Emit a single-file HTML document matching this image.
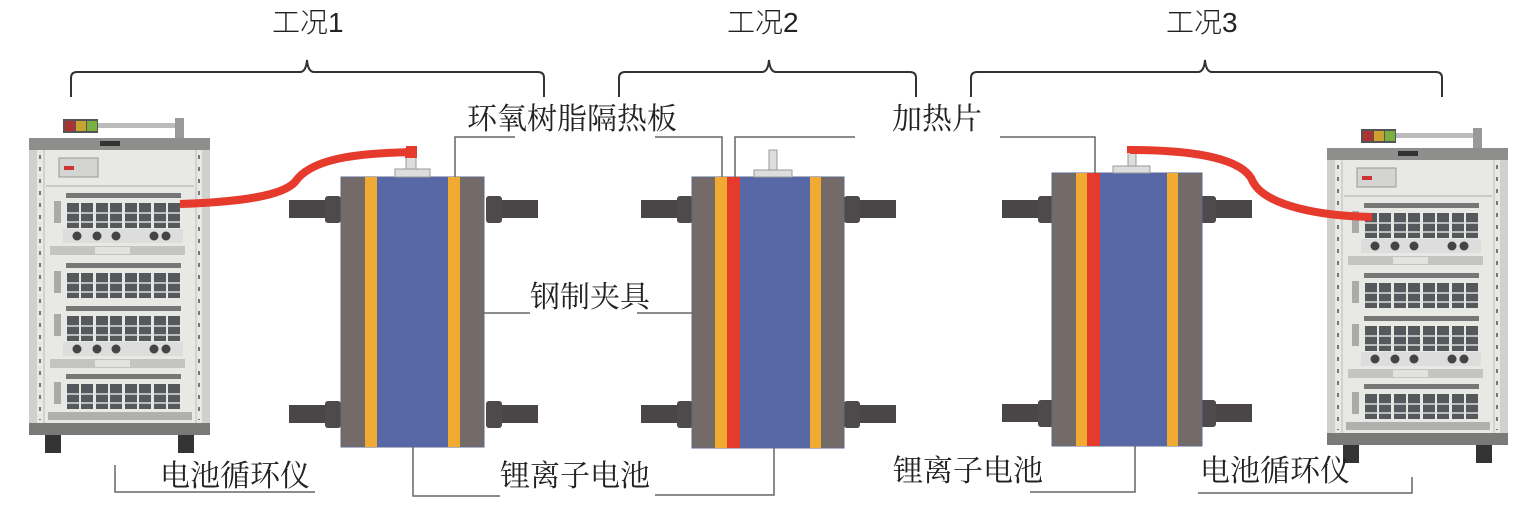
<!DOCTYPE html>
<html><head><meta charset="utf-8"><style>
html,body{margin:0;padding:0;background:#fff;width:1535px;height:511px;overflow:hidden}
svg{display:block}
text{font-family:"Liberation Serif","Noto Serif CJK SC","Noto Sans CJK SC",serif;fill:#222}
text.t{font-family:"Liberation Sans","Noto Sans CJK SC",sans-serif;font-weight:300}
</style></head><body>
<svg width="1535" height="511" viewBox="0 0 1535 511" xmlns="http://www.w3.org/2000/svg">
<defs>
<g id="row">
  <rect x="66" y="0" width="115" height="5" fill="#777"/>
  <rect x="54" y="8" width="7" height="22" fill="#aaa"/>
  <g fill="#55595c">
    <rect x="67" y="10" width="12" height="25"/><rect x="81" y="10" width="12" height="25"/>
    <rect x="96" y="10" width="12" height="25"/><rect x="110" y="10" width="12" height="25"/>
    <rect x="125" y="10" width="12" height="25"/><rect x="139" y="10" width="12" height="25"/>
    <rect x="154" y="10" width="12" height="25"/><rect x="168" y="10" width="12" height="25"/>
  </g>
  <g stroke="#ddd" stroke-width="1.5">
    <line x1="67" y1="20" x2="180" y2="20"/><line x1="67" y1="29" x2="180" y2="29"/>
  </g>
</g>
<g id="knobs">
  <rect x="63" y="0" width="120" height="14" fill="#ddd"/>
  <g fill="#444"><circle cx="77" cy="7" r="4.5"/><circle cx="97" cy="7" r="4.5"/><circle cx="116" cy="7" r="4.5"/><circle cx="154" cy="7" r="4.5"/><circle cx="166" cy="7" r="4.5"/></g>
  <rect x="50" y="17" width="135" height="9" fill="#c4c4c2"/>
  <rect x="95" y="18" width="35" height="7" fill="#e2e2e0"/>
</g>
<g id="cab">
  <rect x="63" y="119" width="35" height="14" fill="#555"/>
  <rect x="65" y="121" width="10" height="10" fill="#a33"/><rect x="76" y="121" width="10" height="10" fill="#c9a230"/><rect x="87" y="121" width="10" height="10" fill="#7ab040"/>
  <rect x="98" y="123" width="80" height="5" fill="#bbb"/>
  <rect x="175" y="118" width="9" height="20" fill="#999"/>
  <rect x="29" y="138" width="181" height="12" fill="#8e8e8c"/>
  <rect x="100" y="141" width="20" height="5" fill="#333"/>
  <rect x="29" y="150" width="181" height="273" fill="#e8e8e5"/>
  <rect x="29" y="150" width="8" height="273" fill="#d0d0cd"/>
  <rect x="202" y="150" width="8" height="273" fill="#d0d0cd"/>
  <g stroke="#777" stroke-width="2" stroke-dasharray="4 8"><line x1="40" y1="155" x2="40" y2="420"/><line x1="199" y1="155" x2="199" y2="420"/></g>
  <line x1="44" y1="150" x2="44" y2="423" stroke="#bbb"/><line x1="196" y1="150" x2="196" y2="423" stroke="#bbb"/>
  <rect x="59" y="158" width="39" height="19" fill="#d4d4d2" stroke="#999"/>
  <rect x="64" y="166" width="10" height="4" fill="#c33"/>
  <line x1="46" y1="186" x2="194" y2="186" stroke="#aaa"/>
  <use href="#row" transform="translate(0,193)"/>
  <use href="#knobs" transform="translate(0,229)"/>
  <use href="#row" transform="translate(0,263)"/>
  <use href="#row" transform="translate(0,306)"/>
  <use href="#knobs" transform="translate(0,342)"/>
  <use href="#row" transform="translate(0,374)"/>
  <rect x="48" y="412" width="144" height="8" fill="#b0b0ae"/>
  <rect x="29" y="423" width="181" height="12" fill="#7a7a78"/>
  <g fill="#333"><rect x="45" y="435" width="16" height="18"/><rect x="178" y="435" width="16" height="18"/></g>
</g>
<g id="bolts">
  <rect x="0" y="0" width="40" height="18" fill="#4a4648"/>
  <rect x="36" y="-4" width="16" height="27" rx="3" fill="#4e4a4b"/>
</g>
</defs>

<g font-size="28">
<text class="t" x="272" y="32">工况1</text>
<text class="t" x="727" y="32">工况2</text>
<text class="t" x="1166" y="32">工况3</text>
</g>
<g fill="none" stroke="#333" stroke-width="2">
<path d="M71,97 L71,78 Q71,72 77,72 L300,72 Q306,72 307,60 Q308,72 314,72 L538,72 Q544,72 544,78 L544,97"/>
<path d="M619,97 L619,78 Q619,72 625,72 L762,72 Q768,72 769,60 Q770,72 776,72 L910,72 Q916,72 916,78 L916,97"/>
<path d="M971,97 L971,78 Q971,72 977,72 L1198,72 Q1204,72 1205,60 Q1206,72 1212,72 L1436,72 Q1442,72 1442,78 L1442,97"/>
</g>

<use href="#cab"/>
<use href="#cab" transform="translate(1298,10)"/>

<use href="#bolts" transform="translate(289,200)"/>
<use href="#bolts" transform="translate(289,405)"/>
<use href="#bolts" transform="translate(538,200) scale(-1,1)"/>
<use href="#bolts" transform="translate(538,405) scale(-1,1)"/>
<rect x="341" y="177" width="143" height="270" fill="#746b69" stroke="#5d6a8a" stroke-width="1"/>
<rect x="365" y="177" width="12" height="270" fill="#f2ab32"/>
<rect x="377" y="177" width="71" height="270" fill="#5868a6"/>
<rect x="448" y="177" width="12" height="270" fill="#f2ab32"/>
<rect x="395" y="169" width="35" height="8" fill="#ddd" stroke="#999"/>
<rect x="406" y="152" width="10" height="17" fill="#ddd" stroke="#999"/>

<use href="#bolts" transform="translate(641,200)"/>
<use href="#bolts" transform="translate(641,405)"/>
<use href="#bolts" transform="translate(896,200) scale(-1,1)"/>
<use href="#bolts" transform="translate(896,405) scale(-1,1)"/>
<rect x="692" y="177" width="152" height="271" fill="#746b69" stroke="#5d6a8a" stroke-width="1"/>
<rect x="715" y="177" width="12" height="271" fill="#f2ab32"/>
<rect x="727" y="177" width="13" height="271" fill="#e53a2c"/>
<rect x="740" y="177" width="70" height="271" fill="#5868a6"/>
<rect x="810" y="177" width="11" height="271" fill="#f2ab32"/>
<rect x="754" y="170" width="38" height="7" fill="#ddd" stroke="#999"/>
<rect x="769" y="150" width="8" height="20" fill="#ddd" stroke="#999"/>

<use href="#bolts" transform="translate(1002,200)"/>
<use href="#bolts" transform="translate(1002,404)"/>
<use href="#bolts" transform="translate(1252,200) scale(-1,1)"/>
<use href="#bolts" transform="translate(1252,404) scale(-1,1)"/>
<rect x="1052" y="173" width="150" height="273" fill="#746b69" stroke="#5d6a8a" stroke-width="1"/>
<rect x="1076" y="173" width="11" height="273" fill="#f2ab32"/>
<rect x="1087" y="173" width="13" height="273" fill="#e53a2c"/>
<rect x="1100" y="173" width="67" height="273" fill="#5868a6"/>
<rect x="1167" y="173" width="11" height="273" fill="#f2ab32"/>
<rect x="1113" y="166" width="37" height="7" fill="#ddd" stroke="#999"/>
<rect x="1128" y="152" width="8" height="14" fill="#ddd" stroke="#999"/>

<g fill="none" stroke="#e53a2c" stroke-width="8" stroke-linecap="butt">
<path d="M180,204 C240,202 282,196 295,182 C310,160 350,153 416,152"/>
<path d="M411,148 L411,158" stroke-width="12"/>
<path d="M1130,150 C1200,150 1245,160 1253,182 C1266,206 1320,216 1372,217"/>
</g>
<rect x="406" y="146" width="11" height="7" fill="#e53a2c"/>
<rect x="1127" y="146" width="10" height="7" fill="#e53a2c"/>

<g fill="none" stroke="#666" stroke-width="1.5">
<path d="M455,177 L455,137 L515,137"/>
<path d="M655,137 L722,137 L722,177"/>
<path d="M735,177 L735,137 L855,137"/>
<path d="M1000,137 L1095,137 L1095,173"/>
<path d="M484,313 L530,313"/>
<path d="M637,313 L692,313"/>
<path d="M413,447 L413,496 L500,496"/>
<path d="M655,495 L774,495 L774,448"/>
<path d="M1030,492 L1135,492 L1135,446"/>
<path d="M115,465 L115,492 L315,492"/>
<path d="M1198,493 L1412,493 L1412,477"/>
</g>

<g font-size="30">
<text x="467" y="129">环氧树脂隔热板</text>
<text x="892" y="129">加热片</text>
<text x="530" y="307">钢制夹具</text>
<text x="500" y="486">锂离子电池</text>
<text x="893" y="481">锂离子电池</text>
<text x="160" y="486">电池循环仪</text>
<text x="1200" y="481">电池循环仪</text>
</g>
</svg>
</body></html>
